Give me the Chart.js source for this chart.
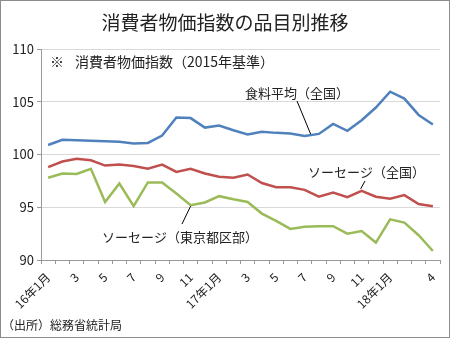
<!DOCTYPE html>
<html>
<head>
<meta charset="utf-8">
<script src="https://cdn.jsdelivr.net/npm/chart.js@4"></script>
<style>
  html, body { margin: 0; padding: 0; background: #fff; }
  #wrap { position: relative; width: 450px; height: 338px; }
</style>
</head>
<body>
<div id="wrap"><canvas id="cpi-chart" width="450" height="338"></canvas></div>
<script>
// months 2016/1 .. 2018/4, only every other month labelled
var months = ["16年1月", "", "3", "", "5", "", "7", "", "9", "", "11", "",
              "17年1月", "", "3", "", "5", "", "7", "", "9", "", "11", "",
              "18年1月", "", "", "4"];

var foodAvg = [100.9, 101.4, 101.35, 101.3, 101.25, 101.2, 101.05, 101.1, 101.8, 103.5,
               103.45, 102.55, 102.75, 102.3, 101.9, 102.15, 102.05, 102.0, 101.75, 101.95,
               102.9, 102.25, 103.25, 104.45, 105.95, 105.3, 103.75, 102.85];

var sausageJapan = [98.8, 99.33, 99.6, 99.45, 98.95, 99.05, 98.9, 98.65, 99.05, 98.35,
                    98.65, 98.2, 97.9, 97.8, 98.1, 97.3, 96.9, 96.9, 96.65, 96.0,
                    96.4, 95.95, 96.55, 96.0, 95.8, 96.15, 95.3, 95.1];

var sausageTokyo = [97.8, 98.2, 98.15, 98.65, 95.5, 97.25, 95.1, 97.35, 97.35, 96.3,
                    95.2, 95.45, 96.05, 95.75, 95.5, 94.4, 93.7, 92.95, 93.15, 93.2,
                    93.2, 92.5, 92.75, 91.65, 93.85, 93.55, 92.35, 90.85];

var yTicks = [90, 95, 100, 105, 110];

var FONT = "'Noto Sans CJK JP', 'Noto Sans', sans-serif";

var decorations = {
  id: "decorations",
  afterDraw: function(chart) {
    var ctx = chart.ctx;
    var x = chart.scales.x, y = chart.scales.y;
    ctx.save();
    ctx.fillStyle = "#222";
    ctx.textBaseline = "middle";

    // title
    ctx.font = "19px " + FONT;
    ctx.textAlign = "center";
    ctx.fillText("消費者物価指数の品目別推移", 225, 23);

    // note inside the plot
    ctx.textAlign = "left";
    ctx.font = "14px " + FONT;
    ctx.fillText("※", 50, 62);
    ctx.fillText("消費者物価指数（2015年基準）", 75, 62);

    // series labels + leader lines
    ctx.font = "13px " + FONT;
    ctx.fillText("食料平均（全国）", 245, 93);
    ctx.fillText("ソーセージ（全国）", 308, 172);
    ctx.fillText("ソーセージ（東京都区部）", 102, 237);

    ctx.strokeStyle = "#000";
    ctx.lineWidth = 1;
    ctx.beginPath();
    ctx.moveTo(297, 101);
    ctx.lineTo(x.getPixelForValue(18) + 6, y.getPixelForValue(foodAvg[18]) - 2);
    ctx.moveTo(365, 181);
    ctx.lineTo(x.getPixelForValue(22) - 1, y.getPixelForValue(sausageJapan[22]) - 2);
    ctx.moveTo(182, 224);
    ctx.lineTo(x.getPixelForValue(10), y.getPixelForValue(sausageTokyo[10]) + 1);
    ctx.stroke();

    // source
    ctx.font = "12px " + FONT;
    ctx.fillText("（出所）総務省統計局", 2, 325);

    // frame
    ctx.strokeStyle = "#8c8c8c";
    ctx.strokeRect(0.5, 0.5, 449, 337);
    ctx.restore();
  }
};

new Chart(document.getElementById("cpi-chart"), {
  type: "line",
  data: {
    labels: months,
    datasets: [
      { label: "食料平均（全国）", data: foodAvg, borderColor: "#4f81bd" },
      { label: "ソーセージ（全国）", data: sausageJapan, borderColor: "#c0504d" },
      { label: "ソーセージ（東京都区部）", data: sausageTokyo, borderColor: "#9bbb59" }
    ]
  },
  options: {
    responsive: false,
    animation: false,
    layout: { padding: { top: 49, right: 10, left: 0, bottom: 0 } },
    elements: {
      line: { borderWidth: 2.5, tension: 0, fill: false },
      point: { radius: 0 }
    },
    plugins: {
      legend: { display: false },
      tooltip: { enabled: false }
    },
    scales: {
      x: {
        offset: true,
        afterFit: function(s) { s.height = 78; },
        grid: { display: true, drawOnChartArea: false, drawTicks: true, tickLength: 4, color: "#9a9a9a", offset: true },
        border: { color: "#9a9a9a" },
        ticks: {
          autoSkip: false, maxRotation: 45, minRotation: 45,
          color: "#222", font: { family: FONT, size: 12 }, padding: 6
        }
      },
      y: {
        min: 90, max: 110,
        afterFit: function(s) { s.width = 41; },
        afterBuildTicks: function(s) { s.ticks = yTicks.map(function(v) { return { value: v }; }); },
        grid: { color: "#d9d9d9", tickLength: 4, tickColor: "#9a9a9a" },
        border: { color: "#9a9a9a" },
        ticks: { color: "#222", font: { family: FONT, size: 13 }, padding: 3 }
      }
    }
  },
  plugins: [decorations]
});
</script>
</body>
</html>
